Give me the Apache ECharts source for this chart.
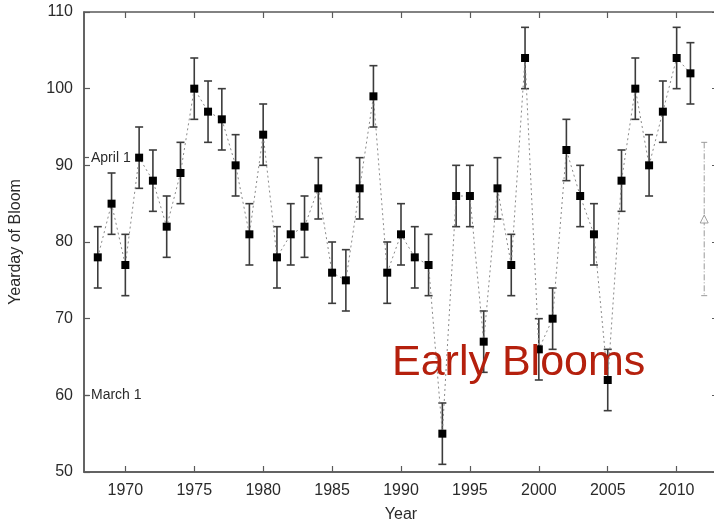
<!DOCTYPE html>
<html>
<head>
<meta charset="utf-8">
<script src="https://cdn.jsdelivr.net/npm/echarts@6/dist/echarts.min.js"></script>
<style>
  html, body { margin: 0; padding: 0; background: #fff; }
  #chart { width: 714px; height: 522px; }
</style>
</head>
<body>
<div id="chart"></div>
<script>
// Yearly bloom day (day of year) with its uncertainty
var years = [1968, 1969, 1970, 1971, 1972, 1973, 1974, 1975, 1976, 1977, 1978,
             1979, 1980, 1981, 1982, 1983, 1984, 1985, 1986, 1987, 1988, 1989,
             1990, 1991, 1992, 1993, 1994, 1995, 1996, 1997, 1998, 1999, 2000,
             2001, 2002, 2003, 2004, 2005, 2006, 2007, 2008, 2009, 2010, 2011];
var bloomDay = [78, 85, 77, 91, 88, 82, 89, 100, 97, 96, 90,
                81, 94, 78, 81, 82, 87, 76, 75, 87, 99, 76,
                81, 78, 77, 55, 86, 86, 67, 87, 77, 104, 66,
                70, 92, 86, 81, 62, 88, 100, 90, 97, 104, 102];
var bloomErr = [4, 4, 4, 4, 4, 4, 4, 4, 4, 4, 4,
                4, 4, 4, 4, 4, 4, 4, 4, 4, 4, 4,
                4, 4, 4, 4, 4, 4, 4, 4, 4, 4, 4,
                4, 4, 4, 4, 4, 4, 4, 4, 4, 4, 4];

// Long-term mean with its spread, shown separately at the right
var meanYear = [2012];
var meanDay = [83];
var meanErr = [10];

// Axis ticks and calendar markers
var yearTicks = [1970, 1975, 1980, 1985, 1990, 1995, 2000, 2005, 2010];
var dayTicks = [50, 60, 70, 80, 90, 100, 110];
var dateMarks = [60, 91];
var dateNames = ['March 1', 'April 1'];

var frameColor = '#5a5a5a';
var textColor = '#2a2a2a';
var font = '"Liberation Sans", Arial, sans-serif';

var pointData = years.map(function (y, i) { return [y, bloomDay[i]]; });
var errData = years.map(function (y, i) { return [y, bloomDay[i] - bloomErr[i], bloomDay[i] + bloomErr[i]]; });
var meanPoint = meanYear.map(function (y, i) { return [y, meanDay[i]]; });
var meanErrData = meanYear.map(function (y, i) { return [y, meanDay[i] - meanErr[i], meanDay[i] + meanErr[i]]; });

function errorBars(opts) {
  return function (params, api) {
    var x = api.value(0);
    var top = api.coord([x, api.value(2)]);
    var bot = api.coord([x, api.value(1)]);
    var style = { stroke: opts.color, lineWidth: opts.width, lineDash: opts.dash || null };
    return {
      type: 'group',
      children: [
        { type: 'line', shape: { x1: top[0], y1: top[1], x2: bot[0], y2: bot[1] }, style: style },
        { type: 'line', shape: { x1: top[0] - opts.cap, y1: top[1], x2: top[0] + opts.cap, y2: top[1] }, style: { stroke: opts.color, lineWidth: opts.width } },
        { type: 'line', shape: { x1: bot[0] - opts.cap, y1: bot[1], x2: bot[0] + opts.cap, y2: bot[1] }, style: { stroke: opts.color, lineWidth: opts.width } }
      ]
    };
  };
}

var chart = echarts.init(document.getElementById('chart'), null, { renderer: 'canvas' });

var dateLookup = {};
dateMarks.forEach(function (v, i) { dateLookup[v] = dateNames[i]; });

chart.setOption({
  animation: false,
  backgroundColor: '#ffffff',
  textStyle: { fontFamily: font },
  grid: {
    left: 84, right: -4, top: 12, bottom: 50,
    outerBoundsMode: 'none', containLabel: false,
    show: true, borderColor: frameColor, borderWidth: 1.5, backgroundColor: 'transparent'
  },
  xAxis: [{
    type: 'value', min: 1967, max: 2013, position: 'bottom',
    name: 'Year', nameLocation: 'middle', nameGap: 35,
    nameTextStyle: { fontSize: 16, color: textColor, fontFamily: font },
    axisLine: { show: true, lineStyle: { color: frameColor, width: 1.5 } },
    axisTick: { show: true, inside: true, length: 6, customValues: yearTicks, lineStyle: { color: frameColor, width: 1.2 } },
    axisLabel: {
      show: true, customValues: yearTicks, fontSize: 16, color: textColor, margin: 11, fontFamily: font,
      formatter: function (v) { return String(v); }
    },
    splitLine: { show: false }
  }, {
    type: 'value', min: 1967, max: 2013, position: 'top',
    axisLine: { show: false },
    axisTick: { show: true, inside: true, length: 6, customValues: yearTicks, lineStyle: { color: frameColor, width: 1.2 } },
    axisLabel: { show: false },
    splitLine: { show: false }
  }],
  yAxis: [{
    type: 'value', min: 50, max: 110, position: 'left',
    name: 'Yearday of Bloom', nameLocation: 'middle', nameGap: 60, nameRotate: 90,
    nameTextStyle: { fontSize: 16, color: textColor, fontFamily: font },
    axisLine: { show: true, lineStyle: { color: frameColor, width: 1.5 } },
    axisTick: { show: true, inside: true, length: 6, customValues: dayTicks, lineStyle: { color: frameColor, width: 1.2 } },
    axisLabel: { show: true, customValues: dayTicks, fontSize: 16, color: textColor, margin: 11, fontFamily: font },
    splitLine: { show: false }
  }, {
    type: 'value', min: 50, max: 110, position: 'right',
    axisLine: { show: false },
    axisTick: { show: true, inside: true, length: 6, customValues: dayTicks, lineStyle: { color: frameColor, width: 1.2 } },
    axisLabel: { show: false },
    splitLine: { show: false }
  }, {
    type: 'value', min: 50, max: 110, position: 'left', offset: 0,
    axisLine: { show: false },
    axisTick: { show: true, inside: true, length: 5, customValues: dateMarks, lineStyle: { color: frameColor, width: 1.2 } },
    axisLabel: {
      show: true, inside: true, customValues: dateMarks, margin: 7,
      fontSize: 14, color: textColor, fontFamily: font,
      formatter: function (v) { return dateLookup[v] || ''; }
    },
    splitLine: { show: false }
  }],
  series: [{
    type: 'custom',
    name: 'uncertainty',
    renderItem: errorBars({ color: '#3c3c3c', width: 1.6, cap: 4 }),
    encode: { x: 0, y: [1, 2] },
    data: errData,
    z: 2
  }, {
    type: 'line',
    name: 'bloom day',
    data: pointData,
    symbol: 'rect',
    symbolSize: 8,
    itemStyle: { color: '#000000' },
    lineStyle: { color: '#8a8a8a', width: 1, type: [2, 3] },
    z: 3
  }, {
    type: 'custom',
    name: 'mean spread',
    renderItem: errorBars({ color: '#9a9a9a', width: 1, cap: 3, dash: [6, 2, 1, 2] }),
    encode: { x: 0, y: [1, 2] },
    data: meanErrData,
    z: 2
  }, {
    type: 'scatter',
    name: 'mean',
    data: meanPoint,
    symbol: 'triangle',
    symbolSize: 8,
    itemStyle: { color: '#ffffff', borderColor: '#8a8a8a', borderWidth: 1 },
    z: 3
  }],
  graphic: [{
    type: 'text',
    left: 392,
    top: 342,
    z: 100,
    style: {
      text: 'Early Blooms',
      fill: '#b5200d',
      font: '43px "Liberation Sans", Arial, sans-serif'
    }
  }]
});
</script>
</body>
</html>
